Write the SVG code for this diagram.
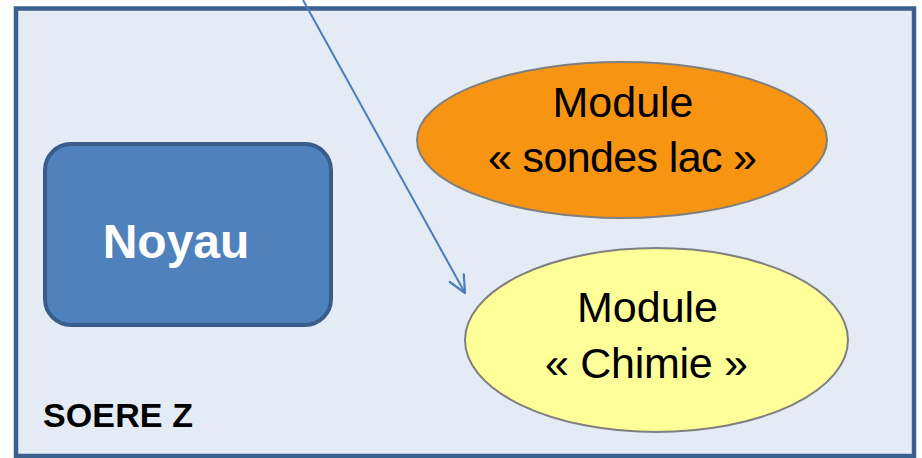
<svg xmlns="http://www.w3.org/2000/svg" width="922" height="458" viewBox="0 0 922 458">
  <defs>
    <style>
      .module { stroke: #7F7F7F; stroke-width: 2; }
      .mtext { font-family: "Liberation Sans", Arial, sans-serif; font-size: 43px; fill: #000; text-anchor: middle; }
      .link { stroke: #4A7EBB; stroke-width: 2; fill: none; }
    </style>
    <marker id="open-arrow" viewBox="0 0 22 22" refX="20" refY="11" markerWidth="22" markerHeight="22" markerUnits="userSpaceOnUse" orient="auto">
      <path d="M3,3 L20,11 L3,19" fill="none" stroke="#4A7EBB" stroke-width="2.2" stroke-linecap="round" stroke-linejoin="round"/>
    </marker>
  </defs>

  <rect width="922" height="458" fill="#FFFFFF"/>

  <!-- SOERE Z container -->
  <g id="soere">
    <rect x="16" y="8.5" width="898" height="447.5" fill="#E5EBF4" stroke="#3B6090" stroke-width="4.5"/>
    <text x="43" y="427" font-family="Liberation Sans, Arial, sans-serif" font-size="34" font-weight="bold" fill="#000" textLength="150">SOERE Z</text>
  </g>

  <!-- Core block -->
  <g id="noyau">
    <rect x="45" y="144" width="286" height="181" rx="26" ry="26" fill="#4F81BD" stroke="#385D8A" stroke-width="4"/>
    <text x="176" y="258" font-family="Liberation Sans, Arial, sans-serif" font-size="48" font-weight="bold" fill="#FFFFFF" text-anchor="middle">Noyau</text>
  </g>

  <!-- Lake probes module -->
  <g id="module-sondes">
    <ellipse class="module" cx="622" cy="140" rx="205" ry="78" fill="#F79412"/>
    <text class="mtext" x="623" y="117">Module</text>
    <text class="mtext" x="622.5" y="172" textLength="269">« sondes lac »</text>
  </g>

  <!-- Chemistry module -->
  <g id="module-chimie">
    <ellipse class="module" cx="656.5" cy="340" rx="191.5" ry="92" fill="#FFFF99"/>
    <text class="mtext" x="647.5" y="322">Module</text>
    <text class="mtext" x="646.5" y="378" textLength="203">« Chimie »</text>
  </g>

  <!-- Connectors -->
  <g id="connectors">
    <line class="link" x1="303" y1="0" x2="465" y2="293" marker-end="url(#open-arrow)"/>
  </g>
</svg>
